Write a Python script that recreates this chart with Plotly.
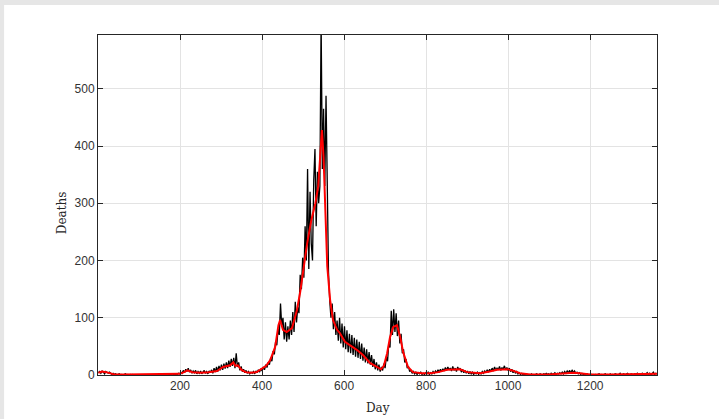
import plotly.graph_objects as go

# Daily deaths (sampled every 3 days, day = 1 + 3*i)
days_daily = list(range(1, 1364, 3))
deaths_daily = [
    4, 6, 3, 7, 5, 2, 6, 4, 3, 5, 2, 1, 3, 1, 2, 0, 1, 2, 0, 1,
    0, 1, 2, 0, 1, 0, 1, 0, 1, 0, 0, 1, 0, 1, 0, 0, 1, 0, 1, 0,
    0, 1, 0, 1, 0, 1, 0, 0, 1, 0, 1, 0, 1, 0, 1, 0, 1, 2, 0, 1,
    2, 1, 0, 2, 1, 3, 2, 5, 3, 8, 4, 10, 6, 12, 5, 9, 3, 7, 4, 8,
    2, 6, 3, 7, 2, 5, 8, 3, 6, 2, 7, 4, 9, 3, 12, 5, 14, 6, 16, 8,
    18, 9, 20, 11, 22, 12, 25, 14, 28, 16, 30, 12, 38, 14, 22, 8, 15, 6, 10, 4,
    8, 3, 6, 2, 5, 3, 6, 2, 7, 4, 9, 5, 11, 7, 14, 9, 18, 13, 22, 18,
    30, 24, 42, 36, 58, 52, 80, 70, 125, 85, 100, 62, 92, 58, 85, 62, 95, 70, 110, 75,
    128, 92, 118, 108, 175, 150, 205, 170, 260, 200, 360, 185, 320, 230, 200, 340, 395, 260, 355, 300,
    330, 620, 360, 465, 330, 488, 300, 180, 130, 100, 125, 80, 110, 70, 95, 60, 100, 55, 90, 48,
    85, 45, 78, 40, 72, 38, 70, 35, 65, 32, 62, 30, 58, 28, 55, 25, 48, 22, 45, 20,
    40, 18, 35, 14, 28, 10, 22, 8, 18, 6, 14, 8, 20, 12, 32, 24, 55, 48, 112, 70,
    115, 75, 108, 68, 95, 55, 72, 38, 45, 22, 28, 12, 15, 6, 9, 3, 6, 2, 5, 1,
    4, 2, 5, 1, 3, 1, 4, 2, 5, 1, 4, 2, 6, 3, 7, 4, 9, 5, 10, 6,
    11, 7, 13, 8, 14, 9, 12, 7, 15, 8, 12, 6, 14, 9, 12, 5, 10, 4, 8, 3,
    7, 2, 6, 2, 5, 1, 4, 2, 5, 1, 4, 2, 6, 3, 7, 4, 9, 5, 10, 6,
    12, 7, 14, 8, 12, 9, 15, 8, 13, 10, 16, 9, 13, 8, 12, 6, 10, 4, 8, 3,
    6, 2, 4, 1, 3, 1, 2, 0, 2, 0, 1, 0, 2, 0, 1, 0, 2, 1, 0, 2,
    1, 0, 2, 1, 3, 1, 2, 0, 3, 1, 2, 4, 1, 3, 2, 4, 2, 5, 2, 6,
    3, 7, 4, 8, 3, 9, 4, 7, 3, 5, 2, 4, 1, 3, 1, 2, 0, 2, 1, 0,
    2, 0, 1, 0, 1, 0, 1, 2, 0, 1, 0, 1, 2, 0, 1, 0, 2, 0, 1, 0,
    2, 1, 0, 1, 3, 0, 1, 2, 0, 1, 3, 1, 0, 2, 1, 0, 2, 1, 3, 0,
    2, 1, 3, 0, 2, 1, 4, 1, 3, 0, 2, 5, 1, 3, 2,
]

# Smoothed deaths (moving average)
days_smooth = [1, 10, 20, 30, 40, 60, 100, 150, 190, 200,
               210, 218, 230, 250, 270, 290, 305, 322, 330, 335,
               341, 350, 360, 371, 387, 402, 410, 420, 432, 440,
               444, 451, 460, 473, 485, 493, 500, 510, 520, 530,
               537, 542, 546, 550, 555, 559, 566, 573, 583, 590,
               602, 615, 631, 646, 663, 680, 690, 697, 705, 712,
               720, 729, 737, 744, 750, 756, 768, 790, 810, 830,
               851, 870, 883, 900, 932, 955, 973, 998, 1010, 1029,
               1054, 1100, 1130, 1150, 1159, 1175, 1200, 1250, 1300, 1340,
               1363]
deaths_smooth = [4, 6, 5, 3, 1, 1, 1, 1, 1, 2,
                 5, 8, 5, 4, 5, 7, 14, 17, 22, 16,
                 17, 9, 5, 4, 5, 12, 16, 26, 49, 87,
                 96, 79, 75, 82, 113, 145, 180, 230, 270, 300,
                 330, 380, 428, 380, 280, 190, 131, 96, 79, 73,
                 58, 52, 44, 35, 21, 14, 10, 16, 38, 66,
                 84, 87, 66, 40, 25, 14, 5, 3, 3, 5,
                 9, 10, 10, 5, 3, 6, 9, 10, 8, 3,
                 1, 1, 2, 3, 4, 3, 1, 1, 1, 1,
                 2]

x_ticks = [200, 400, 600, 800, 1000, 1200]
y_ticks = [0, 100, 200, 300, 400, 500]
x_title = "Day"
y_title = "Deaths"

fig = go.Figure()
fig.add_trace(go.Scatter(x=days_daily, y=deaths_daily, mode="lines",
                         line=dict(color="black", width=1.3), showlegend=False))
fig.add_trace(go.Scatter(x=days_smooth, y=deaths_smooth, mode="lines",
                         line=dict(color="#ff0000", width=2), showlegend=False))

# white panel on gray page
fig.add_shape(type="rect", xref="paper", yref="paper",
              x0=-0.168, x1=1.2, y0=-0.2, y1=1.088,
              fillcolor="white", line=dict(width=0), layer="below")

axis_common = dict(
    showline=True, linecolor="#262626", linewidth=1, mirror="ticks",
    ticks="inside", ticklen=5, tickcolor="#262626",
    showgrid=True, gridcolor="#e3e3e3", gridwidth=1,
    zeroline=False, automargin=False,
    tickfont=dict(family="Liberation Sans, Arial", size=12, color="#333333"),
)

fig.update_xaxes(range=[0, 1363], tickvals=x_ticks, **axis_common)
fig.update_yaxes(range=[0, 594], tickvals=y_ticks, **axis_common)

title_font = dict(family="DejaVu Serif", size=12, color="#262626")
fig.add_annotation(text=x_title, xref="paper", yref="paper", x=0.5, y=-0.097,
                   showarrow=False, font=title_font, xanchor="center", yanchor="middle")
fig.add_annotation(text=y_title, xref="paper", yref="paper", x=-0.0644, y=0.476,
                   showarrow=False, font=title_font, textangle=-90,
                   xanchor="center", yanchor="middle")

fig.update_layout(
    width=719, height=419,
    margin=dict(l=98, r=62, t=35, b=44),
    paper_bgcolor="#e6e6e6", plot_bgcolor="white",
)

fig.write_html("out.html", config={"displayModeBar": False},
               post_script="document.body.style.margin='0';")
